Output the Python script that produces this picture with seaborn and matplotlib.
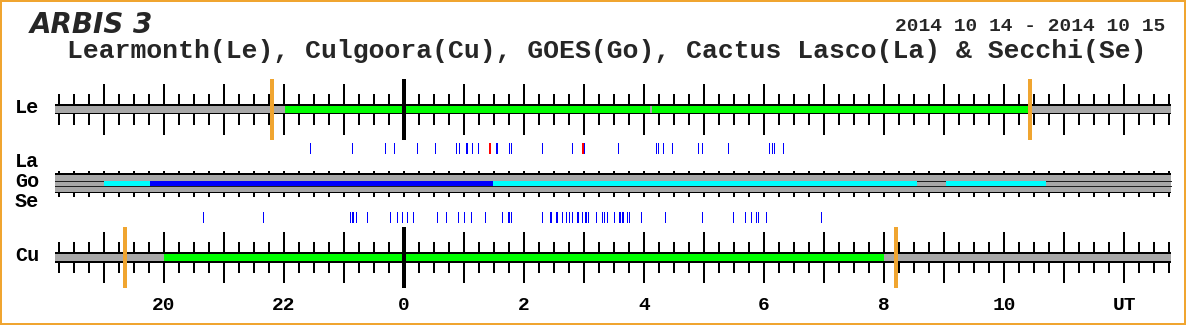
import numpy as np
import matplotlib
matplotlib.use("Agg")
import matplotlib.pyplot as plt
import seaborn as sns
from matplotlib.patches import Rectangle

# ---------------- data (hours UT, relative to 2014-10-15 00:00) ----------------
le_obs_start = [-1.98, 4.125]
le_obs_end = [4.108, 10.40]
cu_obs_start = [-4.00]
cu_obs_end = [8.00]
le_sun = [-2.20, 10.43]
cu_sun = [-4.65, 8.20]
goes_start = [-5.00, -4.23, 1.48, 9.03]
goes_end = [-4.23, 1.48, 8.55, 10.70]
goes_color = ["#00FFFF", "#0000FF", "#00FFFF", "#00FFFF"]
la_blue = [-1.562, -0.862, -0.312, -0.162, 0.222, 0.522, 0.872, 0.917, 1.025, 1.058,
           1.133, 1.238, 1.525, 1.558, 1.755, 1.788, 2.295, 2.805, 2.992, 3.572,
           4.192, 4.225, 4.312, 4.472, 4.905, 4.972, 5.395, 6.078, 6.133, 6.167, 6.322]
la_red = [1.428, 2.975]
se_blue = [-3.345, -2.345, -0.892, -0.867, -0.842, -0.795, -0.612, -0.228, -0.112, -0.028,
           0.053, 0.155, 0.555, 0.705, 0.892, 1.005, 1.122, 1.355, 1.638, 1.725, 1.750,
           1.775, 2.305, 2.425, 2.455, 2.525, 2.555, 2.633, 2.703, 2.745, 2.795, 2.875,
           2.908, 2.962, 3.013, 3.038, 3.063, 3.205, 3.303, 3.338, 3.375, 3.497, 3.580,
           3.605, 3.630, 3.653, 3.712, 3.755, 3.942, 4.355, 4.972, 5.488, 5.687, 5.787,
           5.872, 5.908, 6.038, 6.958]
tick_hours = [-4, -2, 0, 2, 4, 6, 8, 10, 12]
tick_labels = ["20", "22", "0", "2", "4", "6", "8", "10", "UT"]
row_names = ["Le", "La", "Go", "Se", "Cu"]
title = "ARBIS 3"
date_text = "2014 10 14 - 2014 10 15"
subtitle = "Learmonth(Le), Culgoora(Cu), GOES(Go), Cactus Lasco(La) & Secchi(Se)"

# ---------------- style ----------------
sns.set_theme(style="white")
plt.rcParams["font.family"] = ["Liberation Mono", "DejaVu Sans"]

W, H = 1186, 325
PX0, PPH = 404.0, 60.0            # pixel of 00 UT, pixels per hour
def px2h(x):
    return (x - PX0) / PPH

AX_START, AX_END = px2h(55), px2h(1171)
GRAY = "#A8A8A8"
ORANGE = "#F0A530"
PT = 0.72  # one pixel in points
NOEDGE = dict(edgecolor="none", linewidth=0, antialiased=False)

fig = plt.figure(figsize=(W / 100, H / 100), dpi=100)
fig.patch.set_facecolor("white")
ax = fig.add_axes([0, 0, 1, 1])
ax.set_xlim(px2h(0), px2h(W))
ax.set_ylim(H, 0)
ax.axis("off")

minor = np.arange(-5.75, 12.76, 0.25)
major = minor[np.isclose(minor, np.round(minor))]
minor_only = minor[~np.isclose(minor, np.round(minor))]


def station_row(yc, starts, ends, suns):
    # tick marks
    ax.vlines(major, yc - 25.2, yc + 25.8, color="black", lw=2 * PT, zorder=1, antialiased=False)
    ax.vlines(minor_only, yc - 15.2, yc + 15.8, color="black", lw=2 * PT, zorder=1, antialiased=False)
    # bar outline and fill
    ax.barh(yc, AX_END - AX_START, left=AX_START, height=10.3, color="black", zorder=2, **NOEDGE)
    ax.barh(yc, AX_END - AX_START, left=AX_START, height=7.0, color=GRAY, zorder=3, **NOEDGE)
    s = np.array(starts); e = np.array(ends)
    ax.barh([yc] * len(s), e - s, left=s, height=7.0, color="#00FF00", zorder=4, **NOEDGE)
    # sunrise / sunset and 00 UT marker
    ax.vlines(suns, yc - 30.2, yc + 30.8, color=ORANGE, lw=4 * PT, zorder=6, antialiased=False)
    ax.vlines([0], yc - 30.2, yc + 30.8, color="black", lw=4 * PT, zorder=6, antialiased=False)


station_row(109.2, le_obs_start, le_obs_end, le_sun)
station_row(257.5, cu_obs_start, cu_obs_end, cu_sun)

# GOES bar
gy = 183.2
ax.vlines(minor, 170.5, 196.8, color="black", lw=2 * PT, zorder=1, antialiased=False)
ax.barh(gy, AX_END - AX_START, left=AX_START, height=20.4, color="black", zorder=2, **NOEDGE)
ax.barh(gy, AX_END - AX_START, left=AX_START, height=17.0, color=GRAY, zorder=3, **NOEDGE)
ax.hlines([180.5, 186.3], AX_START, AX_END, color="#202020", lw=1 * PT, zorder=4, antialiased=False)
gs = np.array(goes_start); ge = np.array(goes_end)
ax.barh([gy] * len(gs), ge - gs, left=gs, height=4.9, color=goes_color, zorder=5, **NOEDGE)

# event rugs (La above GOES, Se below)
def rug_axes(y_top, y_bot):
    a = fig.add_axes([0, 1 - y_bot / H, 1, (y_bot - y_top) / H])
    a.set_xlim(px2h(0), px2h(W))
    a.set_ylim(0, 1)
    a.axis("off")
    return a

ax_la = rug_axes(143.0, 154.0)
sns.rugplot(x=la_blue, ax=ax_la, height=1, color="#0000FF", linewidth=1 * PT,
            expand_margins=False, antialiased=False)
sns.rugplot(x=la_red, ax=ax_la, height=1, color="#FF0000", linewidth=2 * PT,
            expand_margins=False, antialiased=False)
ax_se = rug_axes(212.0, 223.0)
sns.rugplot(x=se_blue, ax=ax_se, height=1, color="#0000FF", linewidth=1 * PT,
            expand_margins=False, antialiased=False)

# row labels
label_base = [113.3, 166.7, 187.3, 207.3, 260.7]
for name, yb in zip(row_names, label_base):
    ax.text(px2h(15), yb, name, ha="left", va="baseline", fontsize=14.5,
            fontweight="bold", color="black")

# hour labels
for h, lab in zip(tick_hours, tick_labels):
    ax.text(h, 310.0, lab, ha="center", va="baseline", fontsize=14,
            fontweight="bold", color="black")

# titles
fig.text(30 / W, 1 - 33.3 / H, title, ha="left", va="baseline", fontsize=20,
         family="DejaVu Sans", fontweight="bold", fontstyle="oblique")
fig.text(1165 / W, 1 - 30.7 / H, date_text, ha="right", va="baseline", fontsize=14,
         fontweight="bold")
fig.text(607 / W, 1 - 58.3 / H, subtitle, ha="center", va="baseline", fontsize=19,
         fontweight="bold")

# orange frame
fig.patches.append(Rectangle((0, 0), 1, 1, transform=fig.transFigure, fill=False,
                             edgecolor=ORANGE, lw=4 * PT))

fig.savefig("out.png", dpi=100)
